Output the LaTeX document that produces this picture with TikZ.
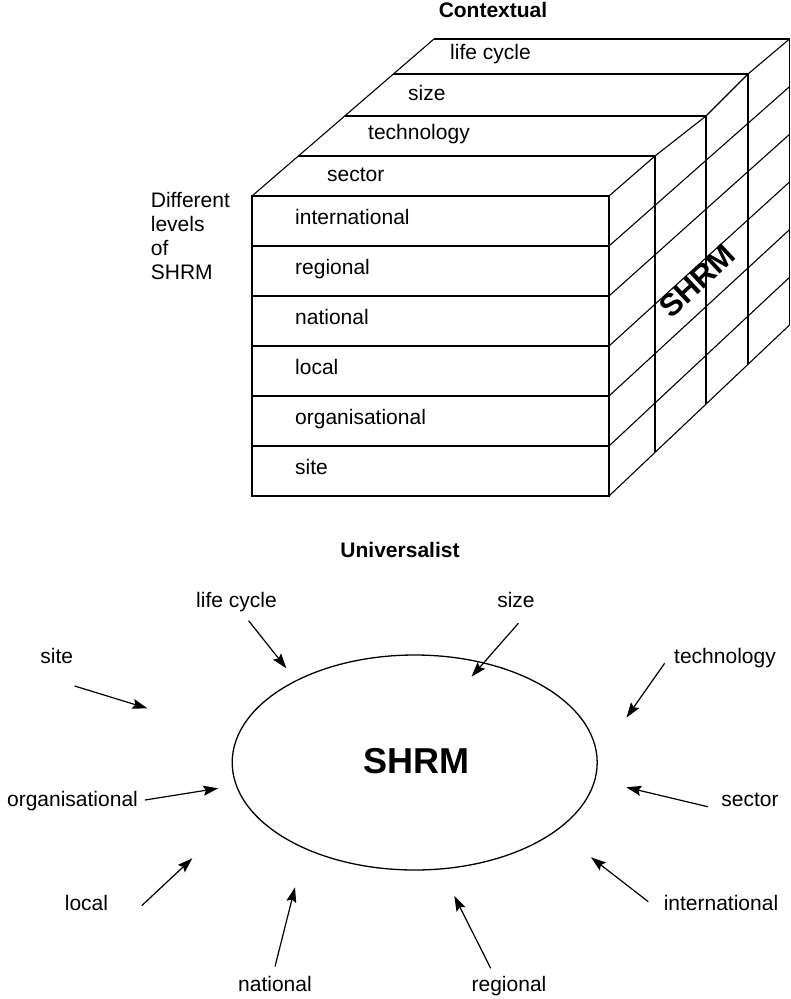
\documentclass[tikz,border=0pt]{standalone}
\usepackage{fontspec}
\newfontfamily\arialf{Liberation Sans}
\usetikzlibrary{arrows.meta}
\tikzset{
  lbl/.style={font=\arialf\fontsize{21}{25}\selectfont, inner sep=0pt, text height=0.72em, text depth=0pt},
  ttl/.style={font=\arialf\bfseries\fontsize{21}{25}\selectfont, inner sep=0pt, text height=0.72em, text depth=0pt},
  thin line/.style={line width=1.1pt},
  row line/.style={line width=1.5pt},
  arr/.style={line width=1.2pt, -{Stealth[length=15pt,width=10pt,inset=2.5pt]}},
}
\begin{document}
\begin{tikzpicture}[x=1pt,y=-1pt]
\useasboundingbox (0,0) rectangle (791,999);

% ---------------- Contextual cube ----------------
\node[ttl] (ctx) at (493,14) {Contextual};

% front face
\draw[row line] (252,196) rectangle (609,496);
\foreach \y in {246,296,346,396,446} \draw[row line] (252,\y) -- (609,\y);

% top face
\draw[thin line] (252,196) -- (434,39);
\draw[thin line] (298.4,156) -- (655,156);
\draw[thin line] (344.7,116) -- (706,116);
\draw[thin line] (393.4,74) -- (748,74);
\draw[thin line] (434,39) -- (789.5,39);
\draw[thin line] (609,196) -- (655,156) -- (706,116) -- (748,74) -- (789.5,39);

% right face verticals
\draw[thin line] (655,156) -- (655,452.3);
\draw[thin line] (706,116) -- (706,403.7);
\draw[thin line] (748,74) -- (748,364);
\draw[thin line] (789.5,39) -- (789.5,325);

% right face diagonals
\foreach \k in {1,...,6} \draw[thin line] (609,196+50*\k) -- (789.5,39+47.67*\k);

% labels on top strips
\node[lbl, anchor=west] (tlc) at (450,56) {life cycle};
\node[lbl, anchor=west] (tsz) at (408,97) {size};
\node[lbl, anchor=west] (ttc) at (368,136) {technology};
\node[lbl, anchor=west] (tsc) at (327,178) {sector};

% labels on front rows
\node[lbl, anchor=west] (fint) at (295,221) {international};
\node[lbl, anchor=west] (freg) at (295,271) {regional};
\node[lbl, anchor=west] (fnat) at (295,321) {national};
\node[lbl, anchor=west] (floc) at (295,371) {local};
\node[lbl, anchor=west] (forg) at (295,421) {organisational};
\node[lbl, anchor=west] (fsit) at (295,471) {site};

% side text
\node[lbl, anchor=west] (d1) at (150.7,203.5) {Different};
\node[lbl, anchor=west] (d2) at (150.7,228) {levels};
\node[lbl, anchor=west] (d3) at (150.7,252) {of};
\node[lbl, anchor=west] (d4) at (150.7,276) {SHRM};

% rotated SHRM
\node[font=\arialf\bfseries\fontsize{31}{34}\selectfont, inner sep=0pt, text height=0.72em, text depth=0pt, rotate=43] (cshrm) at (702,286) {SHRM};

% ---------------- Universalist ----------------
\node[ttl] (uni) at (400,554) {Universalist};
\draw[line width=1.3pt] (414.7,762.5) ellipse [x radius=182.5, y radius=107.5];
\node[font=\arialf\bfseries\fontsize{36}{40}\selectfont, inner sep=0pt, text height=0.72em, text depth=0pt] (ushrm) at (416.7,770) {SHRM};

\node[lbl] (ulc) at (236.5,603.5) {life cycle};
\node[lbl] (usz) at (516,603.5) {size};
\node[lbl] (usi) at (56.7,660) {site};
\node[lbl] (utc) at (725,660) {technology};
\node[lbl] (uor) at (72.5,803) {organisational};
\node[lbl] (use) at (750,803) {sector};
\node[lbl] (ulo) at (86.5,907) {local};
\node[lbl] (uin) at (721,907) {international};
\node[lbl] (una) at (275,988) {national};
\node[lbl] (ure) at (509,988) {regional};

\coordinate (lcA) at (248.6,620.7); \coordinate (lcB) at (286.4,668.3);
\coordinate (szA) at (518.4,623.3); \coordinate (szB) at (471.5,676.7);
\coordinate (siA) at (74.6,686);    \coordinate (siB) at (147.3,708.3);
\coordinate (tcA) at (664.6,663.3); \coordinate (tcB) at (626.5,717.5);
\coordinate (orA) at (145,800);     \coordinate (orB) at (218.3,788.3);
\coordinate (seA) at (707.7,806.7); \coordinate (seB) at (626.3,787.3);
\coordinate (loA) at (141.7,905.7); \coordinate (loB) at (192.3,858.3);
\coordinate (inA) at (648.3,901.7); \coordinate (inB) at (591,857.3);
\coordinate (naA) at (275,966.5);   \coordinate (naB) at (295,887.3);
\coordinate (reA) at (490.7,968.3); \coordinate (reB) at (454.3,896);

\foreach \a in {lc,sz,si,tc,or,se,lo,in,na,re} \draw[arr] (\a A) -- (\a B);
\end{tikzpicture}
\end{document}
